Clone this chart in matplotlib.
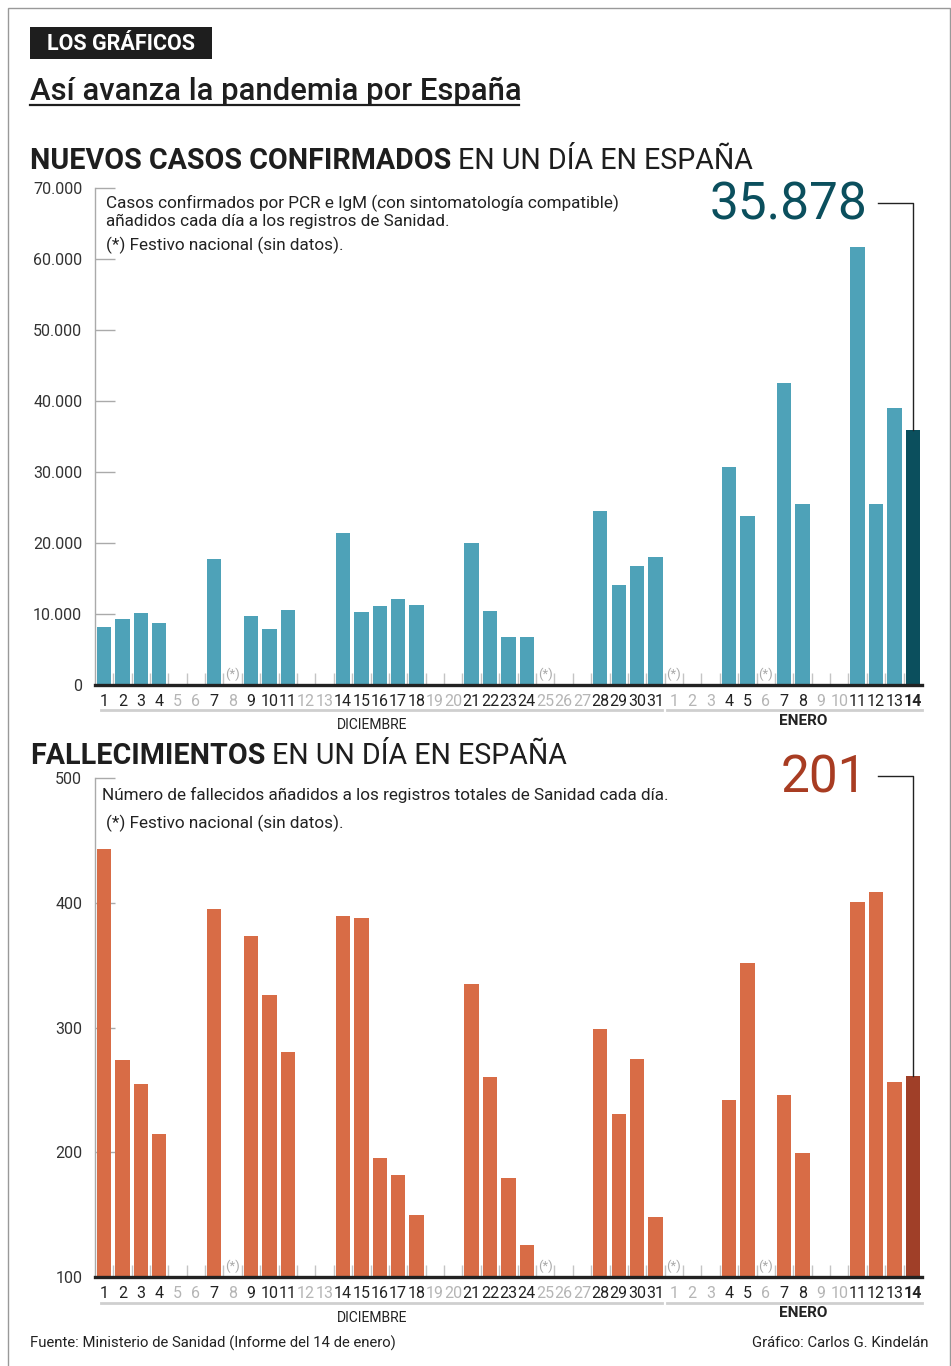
import matplotlib.pyplot as plt
from matplotlib.lines import Line2D
from matplotlib.patches import Rectangle

# --- datos ---
dias_dic = list(range(1, 32))
dias_ene = list(range(1, 15))
etiquetas = [str(d) for d in dias_dic] + [str(d) for d in dias_ene]

casos_dic = [8200, 9300, 10100, 8700, None, None, 17700, None, 9700, 7900, 10600,
             None, None, 21400, 10300, 11100, 12100, 11300, None, None, 20000,
             10400, 6800, 6800, None, None, None, 24500, 14100, 16800, 18000]
casos_ene = [None, None, None, 30700, 23800, None, 42500, 25500, None, None,
             61700, 25500, 39000, 35878]

muertes_dic = [443, 274, 255, 215, None, None, 395, None, 373, 326, 280,
               None, None, 389, 388, 195, 182, 150, None, None, 335,
               260, 179, 126, None, None, None, 299, 231, 275, 148]
muertes_ene = [None, None, None, 242, 352, None, 246, 199, None, None,
               401, 409, 256, 261]

festivos = ["dic 8", "dic 25", "ene 1", "ene 6"]
ultimo_casos = "35.878"
ultimo_muertes = "201"

casos = casos_dic + casos_ene
muertes = muertes_dic + muertes_ene
claves = [f"dic {d}" for d in dias_dic] + [f"ene {d}" for d in dias_ene]

W, H = 951, 1366
AZUL, AZUL_OSC = "#4ea2b8", "#0b4f5d"
NARANJA, ROJO_OSC = "#d86c46", "#a03f28"
GRIS = "#c4c4c4"
FUENTE = ["Roboto", "DejaVu Sans"]

plt.rcParams["font.family"] = FUENTE

fig = plt.figure(figsize=(W / 100, H / 100), dpi=100)


def fx(px):
    return px / W


def fy(py):
    return 1 - py / H


def panel(top_px, bot_px, valores, color, color_ult, yticks, ylabels, ymin, ymax):
    left, right = 94.8, 922
    ax = fig.add_axes([fx(left), fy(bot_px), (right - left) / W, (bot_px - top_px) / H])
    xs = list(range(len(valores)))
    for i, v in enumerate(valores):
        if v is None:
            continue
        c = color_ult if i == len(valores) - 1 else color
        ax.bar(i, v, width=0.78, color=c, zorder=2)
    ax.set_xlim(-0.5, len(valores) - 0.5)
    ax.set_ylim(ymin, ymax)
    for s in ["top", "right"]:
        ax.spines[s].set_visible(False)
    ax.spines["left"].set_color("#aaaaaa")
    ax.spines["left"].set_linewidth(1)
    ax.spines["bottom"].set_color("#222222")
    ax.spines["bottom"].set_linewidth(2.4)
    ax.spines["bottom"].set_zorder(4)
    ax.set_yticks(yticks)
    ax.set_yticklabels(ylabels, fontsize=11.5, color="#333333")
    ax.tick_params(axis="y", length=0, pad=9)
    ax.hlines(yticks, 0, 0.025, transform=ax.get_yaxis_transform(),
              color="#aaaaaa", lw=1, clip_on=False, zorder=1)
    # marcas entre dias
    ax.set_xticks([x + 0.5 for x in xs[:-1]])
    ax.tick_params(axis="x", direction="in", length=9, width=1, color=GRIS,
                   labelbottom=False)
    for i, lab in enumerate(etiquetas):
        col = "#222222" if valores[i] is not None else "#b5b5b5"
        w = "bold" if i == len(etiquetas) - 1 else "normal"
        ax.text(i, -0.019, lab, transform=ax.get_xaxis_transform(), ha="center",
                va="top", fontsize=11.5, color=col, fontweight=w)
        if claves[i] in festivos:
            ax.text(i, 0.008, "(*)", transform=ax.get_xaxis_transform(),
                    ha="center", va="bottom", fontsize=9.5, color="#aaaaaa")
    return ax


# marco
fig.add_artist(Rectangle((fx(8), fy(1380)), fx(942), (1380 - 8) / H,
                         transform=fig.transFigure, fill=False,
                         edgecolor="#999999", lw=1))

# cabecera
fig.add_artist(Rectangle((fx(30), fy(59)), fx(182), 32 / H, transform=fig.transFigure,
                         color="#1e1e1e", lw=0))
fig.text(fx(121), fy(44), "LOS GRÁFICOS", color="white", fontsize=15.5,
         fontweight="bold", ha="center", va="center")
fig.text(fx(30), fy(100), "Así avanza la pandemia por España", fontsize=22.3,
         color="#1e1e1e", ha="left", va="baseline", fontweight="medium")
fig.add_artist(Line2D([fx(30), fx(519)], [fy(105), fy(105)], color="#1e1e1e", lw=1.6))


def cabecera(y, negrita, resto):
    t = fig.text(fx(30), fy(y), negrita, fontsize=20.6, fontweight="bold",
                 color="#1e1e1e", ha="left", va="baseline")
    fig.canvas.draw()
    bb = t.get_window_extent()
    fig.text(bb.x1 / W + fx(7), fy(y), resto, fontsize=20.6, color="#1e1e1e",
             ha="left", va="baseline")


# --- panel casos ---
cabecera(169, "NUEVOS CASOS CONFIRMADOS", "EN UN DÍA EN ESPAÑA")
ax1 = panel(188, 685, casos, AZUL, AZUL_OSC,
            list(range(0, 70001, 10000)),
            ["0", "10.000", "20.000", "30.000", "40.000", "50.000", "60.000", "70.000"],
            0, 70000)
fig.text(fx(106), fy(203), "Casos confirmados por PCR e IgM (con sintomatología compatible)",
         fontsize=12.3, color="#222222", ha="left", va="center")
fig.text(fx(106), fy(221), "añadidos cada día a los registros de Sanidad.",
         fontsize=12.3, color="#222222", ha="left", va="center")
fig.text(fx(106), fy(245), "(*) Festivo nacional (sin datos).", fontsize=12.3,
         color="#222222", ha="left", va="center")
fig.text(fx(867), fy(206), ultimo_casos, fontsize=37, color=AZUL_OSC,
         ha="right", va="center")
ax1.plot([42.1, 44, 44], [67900, 67900, casos[-1]], color="#222222", lw=1,
         clip_on=False, zorder=3)

# --- panel fallecimientos ---
cabecera(764, "FALLECIMIENTOS", "EN UN DÍA EN ESPAÑA")
ax2 = panel(778, 1277, muertes, NARANJA, ROJO_OSC,
            [100, 200, 300, 400, 500], ["100", "200", "300", "400", "500"], 100, 500)
fig.text(fx(102), fy(795), "Número de fallecidos añadidos a los registros totales de Sanidad cada día.",
         fontsize=12.3, color="#222222", ha="left", va="center")
fig.text(fx(106), fy(823), "(*) Festivo nacional (sin datos).", fontsize=12.3,
         color="#222222", ha="left", va="center")
fig.text(fx(867), fy(778), ultimo_muertes, fontsize=37, color="#a83c22",
         ha="right", va="center")
ax2.plot([42.1, 44, 44], [502, 502, muertes[-1]], color="#222222", lw=1,
         clip_on=False, zorder=3)

# meses
for y_lin, y_dic, y_ene in [(710, 725, 721), (1303, 1318, 1313)]:
    fig.add_artist(Line2D([fx(101), fx(662)], [fy(y_lin), fy(y_lin)], color="#cfcfcf", lw=2))
    fig.add_artist(Line2D([fx(667), fx(922)], [fy(y_lin), fy(y_lin)], color="#cfcfcf", lw=2))
    fig.text(fx(372), fy(y_dic), "DICIEMBRE", fontsize=10, color="#222222",
             ha="center", va="center")
    fig.text(fx(803), fy(y_ene), "ENERO", fontsize=11, fontweight="bold",
             color="#222222", ha="center", va="center")

# pie
fig.text(fx(30), fy(1343), "Fuente: Ministerio de Sanidad (Informe del 14 de enero)",
         fontsize=10.75, color="#222222", ha="left", va="center")
fig.text(fx(929), fy(1343), "Gráfico: Carlos G. Kindelán", fontsize=10.75,
         color="#222222", ha="right", va="center")

fig.savefig("out.png", dpi=100)
plt.close(fig)
